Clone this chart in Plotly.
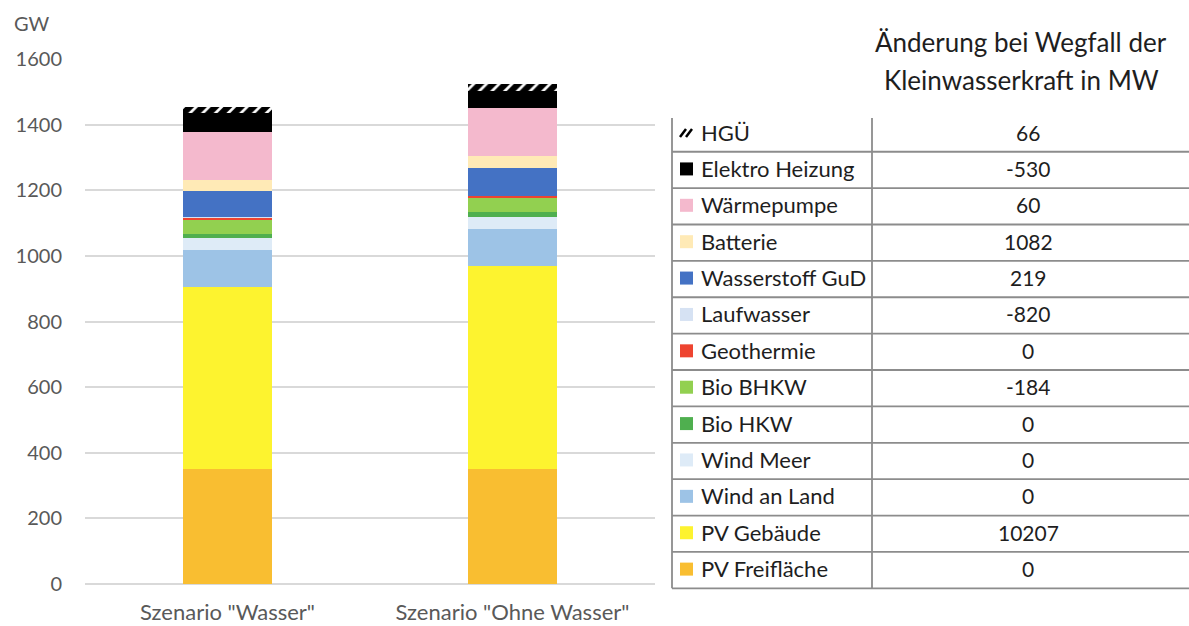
import plotly.graph_objects as go

W, H = 1189, 626

# ---------------- data ----------------
categories = ['Szenario "Wasser"', 'Szenario "Ohne Wasser"']

series_names = ["PV Freifläche", "PV Gebäude", "Wind an Land", "Wind Meer", "Bio HKW",
                "Bio BHKW", "Geothermie", "Laufwasser", "Wasserstoff GuD", "Batterie",
                "Wärmepumpe", "Elektro Heizung", "HGÜ"]

pv_freiflaeche = [350, 350]
pv_gebaeude = [555, 620]
wind_an_land = [112, 112]
wind_meer = [37, 38]
bio_hkw = [14, 15]
bio_bhkw = [44, 42]
geothermie = [4, 4]
laufwasser = [3, 0]
wasserstoff_gud = [79, 86]
batterie = [33, 36]
waermepumpe = [147, 149]
elektro_heizung = [57, 50]
hgue = [20, 23]

series_values = [pv_freiflaeche, pv_gebaeude, wind_an_land, wind_meer, bio_hkw, bio_bhkw,
                 geothermie, laufwasser, wasserstoff_gud, batterie, waermepumpe,
                 elektro_heizung, hgue]

series_colors = ["#F9BE31", "#FDF32F", "#9DC3E6", "#DEEBF7", "#4FAF4F", "#92D050",
                 "#EE4430", "#D6E2F3", "#4472C4", "#FFEAB6", "#F4B9CD", "#000000", "#000000"]

# table (top to bottom)
table_title = ["Änderung bei Wegfall der", "Kleinwasserkraft in MW"]
table_labels = list(reversed(series_names))
table_changes = [66, -530, 60, 1082, 219, -820, 0, -184, 0, 0, 0, 10207, 0]

y_ticks = [0, 200, 400, 600, 800, 1000, 1200, 1400, 1600]

# ---------------- helpers ----------------
def px(x):
    return x / W

def py(y):
    return 1 - y / H

FONT = "Lato"
AXIS_GRAY = "#595959"
TXT = "#1E1E1E"
LINE = "#8C8C8C"

fig = go.Figure()

for name, vals, col in zip(series_names, series_values, series_colors):
    if name == "HGÜ":
        marker = dict(color="white", line=dict(width=0),
                      pattern=dict(shape="/", fgcolor="black", bgcolor="white",
                                   size=9, solidity=0.7))
    else:
        marker = dict(color=col, line=dict(width=0))
    fig.add_trace(go.Bar(x=categories, y=vals, name=name, marker=marker,
                         showlegend=False))

fig.update_layout(
    template="none",
    width=W, height=H, autosize=False,
    margin=dict(l=0, r=0, t=0, b=0, pad=0, autoexpand=False),
    paper_bgcolor="white", plot_bgcolor="white",
    barmode="stack", bargap=0.69, showlegend=False,
    font=dict(family=FONT, color=AXIS_GRAY, size=20),
    xaxis=dict(domain=[px(85), px(655)], showgrid=False, showline=False, ticks="",
               automargin=False, zeroline=False,
               tickfont=dict(size=22, color=AXIS_GRAY), ticklabelstandoff=13),
    yaxis=dict(domain=[py(584), py(59)], range=[0, 1600], tickvals=y_ticks,
               automargin=False,
               showgrid=True, gridcolor="#D9D9D9", gridwidth=1.5,
               zeroline=True, zerolinecolor="#D9D9D9", zerolinewidth=1.5,
               showline=False, ticks="", tickfont=dict(size=20, color=AXIS_GRAY),
               ticklabelstandoff=22),
)

annotations = []
shapes = []

# unit label
annotations.append(dict(x=px(12), y=py(23), xref="paper", yref="paper", text="GW",
                        showarrow=False, xanchor="left", yanchor="middle",
                        font=dict(size=20, color=AXIS_GRAY, family=FONT)))

# table title
annotations.append(dict(x=px(1021), y=py(42), xref="paper", yref="paper", text=table_title[0],
                        showarrow=False, xanchor="center", yanchor="middle",
                        font=dict(size=26, color=TXT, family=FONT)))
annotations.append(dict(x=px(1021), y=py(80), xref="paper", yref="paper", text=table_title[1],
                        showarrow=False, xanchor="center", yanchor="middle",
                        font=dict(size=26, color=TXT, family=FONT)))

# table geometry
line_top, t_bot = 118, 588.3
x_left, x_mid, x_right = 672, 872, 1189
n = len(table_labels)
row_h = 36.38
rows_top = t_bot - n * row_h

shapes.append(dict(type="line", xref="paper", yref="paper", x0=px(x_left), x1=px(x_left),
                   y0=py(line_top), y1=py(t_bot), line=dict(color=LINE, width=1.8)))
shapes.append(dict(type="line", xref="paper", yref="paper", x0=px(x_mid), x1=px(x_mid),
                   y0=py(line_top), y1=py(t_bot), line=dict(color=LINE, width=1.8)))
for i in range(1, n + 1):
    yy = rows_top + i * row_h
    shapes.append(dict(type="line", xref="paper", yref="paper", x0=px(x_left), x1=px(x_right),
                       y0=py(yy), y1=py(yy), line=dict(color=LINE, width=1.8)))

color_by_name = dict(zip(series_names, series_colors))
for i, (lab, chg) in enumerate(zip(table_labels, table_changes)):
    yc = rows_top + (i + 0.5) * row_h - 1.5
    # swatch
    if lab == "HGÜ":
        for dx in (0, 6):
            shapes.append(dict(type="line", xref="paper", yref="paper",
                               x0=px(680 + dx), x1=px(686 + dx), y0=py(yc + 5), y1=py(yc - 3),
                               line=dict(color="black", width=2.5)))
    else:
        shapes.append(dict(type="rect", xref="paper", yref="paper",
                           x0=px(680), x1=px(693), y0=py(yc + 7), y1=py(yc - 6),
                           fillcolor=color_by_name[lab], line=dict(width=0)))
    annotations.append(dict(x=px(699), y=py(yc), xref="paper", yref="paper", text=lab,
                            showarrow=False, xanchor="left", yanchor="middle",
                            font=dict(size=22, color=TXT, family=FONT)))
    annotations.append(dict(x=px((x_mid + 1188) / 2 - 2), y=py(yc), xref="paper", yref="paper",
                            text=str(chg), showarrow=False, xanchor="center", yanchor="middle",
                            font=dict(size=21, color=TXT, family=FONT)))

fig.update_layout(annotations=annotations, shapes=shapes)

fig.write_html("out.html", config={"displayModeBar": False, "responsive": False},
               post_script="document.body.style.margin='0';")
